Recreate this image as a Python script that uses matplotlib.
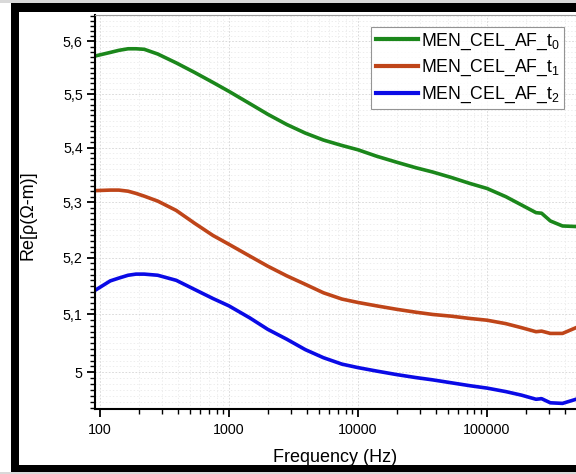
import matplotlib
matplotlib.use("Agg")
import matplotlib.pyplot as plt
from matplotlib.patches import Rectangle
from matplotlib.ticker import FixedLocator, FixedFormatter, LogLocator, NullFormatter

plt.rcParams['font.family'] = ['Liberation Sans', 'DejaVu Sans']
plt.rcParams['mathtext.default'] = 'regular'

# measured spectra, real part of resistivity
freq = [91, 120, 140, 165, 190, 220, 280, 390, 540, 750, 1000, 1450, 2000,
        2800, 3900, 5400, 7500, 10000, 14000, 20000, 28000, 38000, 53000,
        74000, 100000, 140000, 185000, 240000, 265000, 310000, 385000, 490000]
re_t0 = [5.572, 5.579, 5.583, 5.586, 5.586, 5.585, 5.576, 5.559, 5.541, 5.522,
         5.505, 5.482, 5.462, 5.443, 5.427, 5.414, 5.404, 5.396, 5.384, 5.373,
         5.363, 5.355, 5.345, 5.334, 5.325, 5.310, 5.295, 5.281, 5.280, 5.266,
         5.257, 5.256]
re_t1 = [5.321, 5.322, 5.322, 5.320, 5.316, 5.311, 5.302, 5.285, 5.262, 5.240,
         5.224, 5.203, 5.185, 5.168, 5.153, 5.138, 5.127, 5.121, 5.115, 5.109,
         5.104, 5.100, 5.097, 5.093, 5.090, 5.084, 5.077, 5.070, 5.071, 5.067,
         5.067, 5.077]
re_t2 = [5.142, 5.159, 5.164, 5.169, 5.171, 5.171, 5.169, 5.160, 5.144, 5.128,
         5.115, 5.094, 5.074, 5.057, 5.039, 5.025, 5.014, 5.008, 5.002, 4.996,
         4.991, 4.987, 4.982, 4.977, 4.973, 4.967, 4.961, 4.954, 4.955, 4.948,
         4.947, 4.954]

labels = ['MEN_CEL_AF_t$_0$', 'MEN_CEL_AF_t$_1$', 'MEN_CEL_AF_t$_2$']
colors = ['#1b871b', '#bf4519', '#0a0ae6']

yticks = [5.0, 5.1, 5.2, 5.3, 5.4, 5.5, 5.6]
ytick_labels = ['5', '5,1', '5,2', '5,3', '5,4', '5,5', '5,6']
xticks = [100, 1000, 10000, 100000]
xtick_labels = ['100', '1000', '10000', '100000']

W, H = 576, 474
fig = plt.figure(figsize=(W / 100, H / 100), dpi=100)


def px_rect(x0, y0, x1, y1, color):
    # rectangle given in pixel coords measured from the top-left corner
    fig.add_artist(Rectangle((x0 / W, 1 - y1 / H), (x1 - x0) / W, (y1 - y0) / H,
                             transform=fig.transFigure, color=color, lw=0, zorder=5))


ax_left, ax_top, ax_bottom = 94.5, 15, 409
ax = fig.add_axes([ax_left / W, 1 - ax_bottom / H, 1 - ax_left / W, (ax_bottom - ax_top) / H])

for y, lab, c in zip([re_t0, re_t1, re_t2], labels, colors):
    ax.plot(freq, y, color=c, lw=2.6, label=lab, solid_joinstyle='round')

ax.set_xscale('log')
ax.set_yscale('log')
ax.set_xlim(90.6, 489800)
ax.set_ylim(4.9375, 5.651)

ax.xaxis.set_major_locator(FixedLocator(xticks))
ax.xaxis.set_major_formatter(FixedFormatter(xtick_labels))
ax.xaxis.set_minor_locator(LogLocator(base=10, subs=range(2, 10)))
ax.xaxis.set_minor_formatter(NullFormatter())
ax.yaxis.set_major_locator(FixedLocator(yticks))
ax.yaxis.set_major_formatter(FixedFormatter(ytick_labels))
ax.yaxis.set_minor_locator(FixedLocator([4.94 + 0.01 * i for i in range(72)]))
ax.yaxis.set_minor_formatter(NullFormatter())

ax.tick_params(which='major', direction='out', length=6, width=1.3, labelsize=10.3)
ax.tick_params(which='minor', direction='out', length=3.5, width=1.0)
ax.tick_params(axis='y', which='major', pad=2.5)
ax.tick_params(axis='x', which='major', pad=4)

ax.grid(which='major', color='#d4d4d4', ls=(0, (2, 2)), lw=0.6)
ax.grid(which='minor', color='#e6e6e6', ls=(0, (2, 3)), lw=0.5)
ax.set_axisbelow(True)

ax.spines['right'].set_visible(False)
ax.spines['top'].set_color('#9a9a9a')
ax.spines['top'].set_linewidth(0.8)
ax.spines['left'].set_linewidth(1.5)
ax.spines['bottom'].set_linewidth(1.5)

ax.set_xlabel('Frequency (Hz)', fontsize=13)
ax.xaxis.set_label_coords(0.5, (ax_bottom - 457) / (ax_bottom - ax_top))
ax.xaxis.label.set_va('center')
ax.set_ylabel('Re[ρ(Ω-m)]', fontsize=13)
ax.yaxis.set_label_coords((27.5 - ax_left) / (W - ax_left), (ax_bottom - 215) / (ax_bottom - ax_top))
ax.yaxis.label.set_va('center')

leg = ax.legend(loc='upper right', bbox_to_anchor=(564 / W, 1 - 27 / H),
                bbox_transform=fig.transFigure, fontsize=12.7, frameon=True,
                fancybox=False, edgecolor='#7a7a7a', borderaxespad=0,
                handlelength=2.4, handletextpad=0.15, labelspacing=0.35,
                borderpad=0.25)
leg.get_frame().set_linewidth(0.8)
for line in leg.get_lines():
    line.set_linewidth(3.0)

# black border round the picture
px_rect(0, 0, W, 3, '#d9d9d9')
px_rect(11, 3, W, 12, 'black')
px_rect(11, 3, 19, 472, 'black')
px_rect(11, 465, W, 472, 'black')
px_rect(0, 472, W, H, '#d9d9d9')

fig.savefig('out.png', dpi=100)
